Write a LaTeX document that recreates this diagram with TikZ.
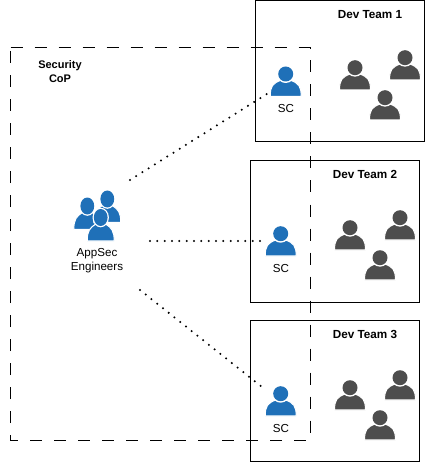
\documentclass[tikz,border=0pt]{standalone}
\usepackage{fontspec}
\setmainfont{Liberation Sans}
\usepackage{tikz}
\usetikzlibrary{
    positioning
}
\definecolor{scblue}{HTML}{1F70B8}
\definecolor{devgrey}{HTML}{4D4D4D}
\tikzset{
    person/.pic={
        \path[pic actions, draw=white, line width=.8pt] (-15.5,0) .. controls (-15.5,-10) and (-13,-13) .. (-5,-16)
            -- (5,-16) .. controls (13,-13) and (15.5,-10) .. (15.5,0) -- cycle;
        \path[fill=white] (0,-22.3) circle[radius=9];
        \path[pic actions] (0,-22.3) circle[radius=7.5];
    },
    member/.pic={
        \path[pic actions, draw=white, line width=.8pt] (-13.5,0) .. controls (-13.5,-10) and (-11,-13) .. (-5,-17)
            -- (5,-17) .. controls (11,-13) and (13.5,-10) .. (13.5,0) -- cycle;
        \path[fill=white] (0,-23.5) ellipse[x radius=8.2, y radius=9.8];
        \path[pic actions] (0,-23.5) ellipse[x radius=6.9, y radius=8.5];
    },
    teambox/.style={
        draw,
        line width=.75pt,
        minimum width=126.75pt,
        minimum height=105.75pt
    },
    teamlabel/.style={
        font=\bfseries\fontsize{8.8}{10}\selectfont
    },
    coplabel/.style={
        font=\bfseries\fontsize{8.25}{10.5}\selectfont,
        align=center
    },
    smalllabel/.style={
        font=\fontsize{8.7}{10.5}\selectfont,
        align=center
    },
    link/.style={
        line width=1.7pt,
        line cap=round,
        dash pattern=on 0pt off 5.5pt
    }
}

\begin{document}
\begin{tikzpicture}[
    x=.75pt,
    y=-.75pt
]
    \useasboundingbox (0,0) rectangle (430,463);

    % Teams
    \node[teambox] (team1) at (340,71)    {};
    \node[teambox] (team2) at (335,231.5) {};
    \node[teambox] (team3) at (335,390.5) {};

    \node[teamlabel] (title1) at (370,15)  {Dev Team 1};
    \node[teamlabel] (title2) at (365,174) {Dev Team 2};
    \node[teamlabel] (title3) at (365,334) {Dev Team 3};

    % Community
    \draw[line width=.75pt, dash pattern=on 9pt off 9pt]
        (10.5,48) -- (310,48) -- (310,440) -- (10.5,440) -- cycle;
    \node[coplabel] (cop) at (60,72) {Security\\CoP};

    % Engineers
    \pic[fill=scblue] at (87.3,229.5) {member};
    \pic[fill=scblue] at (107.3,222.5) {member};
    \pic[fill=scblue] at (100.7,241) {member};
    \node[smalllabel] (appsec) at (97,261) {AppSec\\Engineers};

    % Champions
    \pic[fill=scblue] at (285.7,96.3) {person};
    \pic[fill=scblue] at (280.7,256)  {person};
    \pic[fill=scblue] at (280.7,416)  {person};
    \node[smalllabel] (sc1) at (286,109) {SC};
    \node[smalllabel] (sc2) at (281,269) {SC};
    \node[smalllabel] (sc3) at (281,429) {SC};

    % Developers
    \foreach \dx/\dy in {355/90, 405/80, 385/120, 350/250, 400/240, 380/280, 350/410, 400/400, 380/440} {
        \pic[fill=devgrey] at (\dx,\dy) {person};
    }

    % Links
    \coordinate (from1) at (130,180);
    \coordinate (from2) at (150,241);
    \coordinate (from3) at (140,290);
    \coordinate (to1) at (270,92);
    \coordinate (to2) at (265,241);
    \coordinate (to3) at (262,387);
    \draw[link] (from1) -- (to1);
    \draw[link] (from2) -- (to2);
    \draw[link] (from3) -- (to3);

\end{tikzpicture}
\end{document}
